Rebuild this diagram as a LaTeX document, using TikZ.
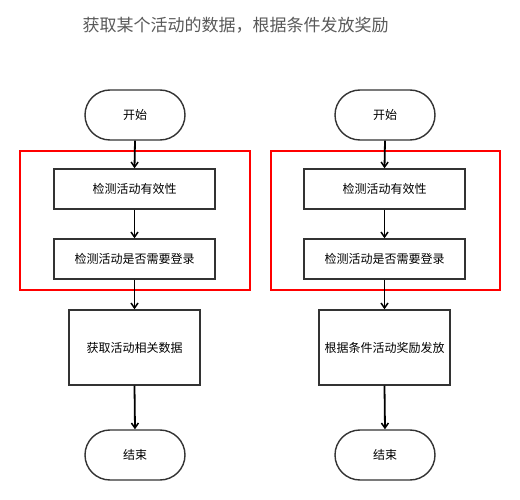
\documentclass[tikz,border=0pt]{standalone}
\usepackage{fontspec}
\newfontfamily\cjk{Noto Sans CJK SC}
\usetikzlibrary{arrows.meta,shapes.misc}
\begin{document}
\begin{tikzpicture}[x=1pt,y=-1pt,
  term/.style={draw=black!80,line width=1.4pt,rounded rectangle,minimum width=100pt,minimum height=50pt,font=\cjk\fontsize{12}{14}\selectfont,inner sep=0pt},
  proc/.style={draw=black!80,line width=1.4pt,rectangle,minimum width=161pt,minimum height=40pt,font=\cjk\fontsize{12}{14}\selectfont,inner sep=0pt},
  proc3/.style={draw=black!80,line width=1.4pt,rectangle,minimum width=131pt,minimum height=75pt,font=\cjk\fontsize{12}{14}\selectfont,inner sep=0pt},
  grp/.style={draw=red,line width=2pt},
  flow/.style={line width=1.8pt,-{Straight Barb[length=5pt,width=7pt,line width=1.5pt]}}]
\useasboundingbox (0,0) rectangle (520,500);
\node[font=\cjk\fontsize{17}{20}\selectfont,text=black!65,anchor=west] (title) at (79,25) {获取某个活动的数据，根据条件发放奖励};
% red group frames
\draw[grp] (20,151) rectangle (250,290);
\draw[grp] (271,151) rectangle (500,290);
% left column
\node[term] (s1) at (135,115) {开始};
\node[proc] (a1) at (134.5,189) {检测活动有效性};
\node[proc] (a2) at (134.5,259) {检测活动是否需要登录};
\node[proc3] (a3) at (134.5,347.5) {获取活动相关数据};
\node[term] (e1) at (135,455) {结束};
% right column
\node[term] (s2) at (385,115) {开始};
\node[proc] (b1) at (384.5,189) {检测活动有效性};
\node[proc] (b2) at (384.5,259) {检测活动是否需要登录};
\node[proc3] (b3) at (384.5,347.5) {根据条件活动奖励发放};
\node[term] (e2) at (385,455) {结束};
\foreach \u/\v in {s1/a1,a1/a2,a2/a3,a3/e1,s2/b1,b1/b2,b2/b3,b3/e2}
  \draw[flow] (\u.south) -- (\v.north);
\end{tikzpicture}
\end{document}
